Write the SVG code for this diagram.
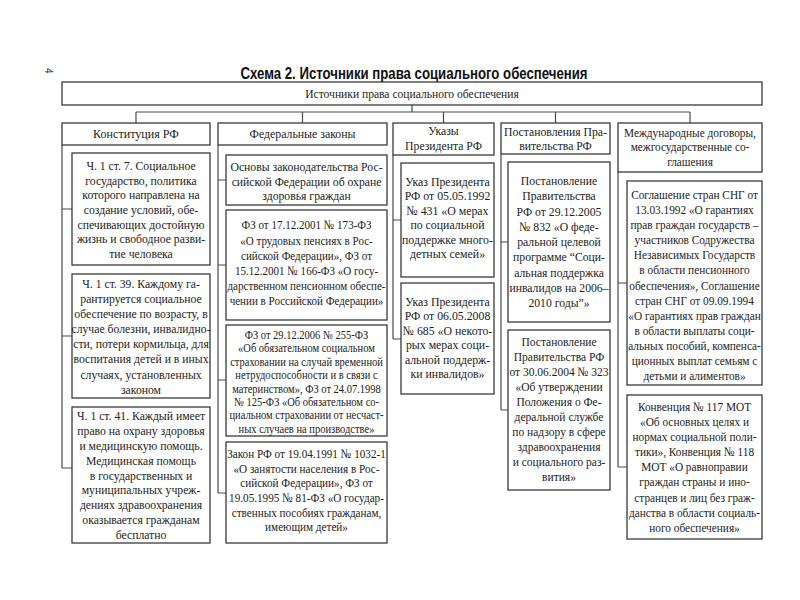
<svg xmlns="http://www.w3.org/2000/svg" width="800" height="600" viewBox="0 0 800 600">
<style>
.box{fill:#fff;stroke:#3a3a3a;stroke-width:1.3}
.ln{fill:none;stroke:#4a4a4a;stroke-width:1.2}
.t{font-family:"Liberation Serif","Times New Roman",serif;font-size:13px;fill:#222;text-anchor:middle}
.ttl{font-family:"Liberation Sans",Arial,sans-serif;font-size:16px;font-weight:bold;fill:#111;text-anchor:middle}
</style>
<rect width="800" height="600" fill="#fff"/>
<text x="45" y="68" transform="rotate(90 45 68)" style="font-family:'Liberation Sans',sans-serif;font-size:10px;fill:#333">4</text>
<text class="ttl" x="414" y="79" textLength="347" lengthAdjust="spacingAndGlyphs">Схема 2. Источники права социального обеспечения</text>

<g id="connectors">
<path class="ln" d="M412 105V112M136 112H690M136 112V123M302.5 112V123M443.5 112V123M555.5 112V123M690 112V123"/>
<path class="ln" d="M62 145V468M62 209H72M62 336H72M62 468H72"/>
<path class="ln" d="M218 145V493M218 180H226M218 265H226M218 380H226M218 493H226"/>
<path class="ln" d="M393 155V339M393 220H401M393 339H401"/>
<path class="ln" d="M501 154V410M501 242H508M501 410H508"/>
<path class="ln" d="M618 172V467M618 283H627M618 467H627"/>
</g>

<g id="root">
<rect class="box" x="62" y="82" width="700" height="23"/>
<text class="t" transform="translate(412 0) scale(0.89 1)"><tspan x="0" y="98">Источники права социального обеспечения</tspan></text>
</g>

<g id="h-constitution">
<rect class="box" x="62" y="123" width="148" height="22"/>
<text class="t" transform="translate(136 0) scale(0.93 1)"><tspan x="0" y="138.5">Конституция РФ</tspan></text>
</g>
<g id="h-laws">
<rect class="box" x="218" y="123" width="169" height="22"/>
<text class="t" transform="translate(302.5 0) scale(0.91 1)"><tspan x="0" y="138.5">Федеральные законы</tspan></text>
</g>
<g id="h-decrees">
<rect class="box" x="393" y="123" width="101" height="32"/>
<text class="t" transform="translate(443.5 0) scale(0.9 1)"><tspan x="0" y="135.5">Указы</tspan><tspan x="0" y="150">Президента РФ</tspan></text>
</g>
<g id="h-government">
<rect class="box" x="501" y="123" width="109" height="31"/>
<text class="t" transform="translate(555.5 0) scale(0.9 1)"><tspan x="0" y="136">Постановления Пра-</tspan><tspan x="0" y="150">вительства РФ</tspan></text>
</g>
<g id="h-international">
<rect class="box" x="618" y="123" width="144" height="49"/>
<text class="t" transform="translate(690 0) scale(0.87 1)"><tspan x="0" y="137">Международные договоры,</tspan><tspan x="0" y="151.5">межгосударственные со-</tspan><tspan x="0" y="166">глашения</tspan></text>
</g>

<g id="c1-art7">
<rect class="box" x="72" y="153" width="138" height="112"/>
<text class="t" transform="translate(141 0) scale(0.9 1)"><tspan x="0" y="170">Ч. 1 ст. 7. Социальное</tspan><tspan x="0" y="184.7">государство, политика</tspan><tspan x="0" y="199.4">которого направлена на</tspan><tspan x="0" y="214.1">создание условий, обе-</tspan><tspan x="0" y="228.8">спечивающих достойную</tspan><tspan x="0" y="243.5">жизнь и свободное разви-</tspan><tspan x="0" y="258.2">тие человека</tspan></text>
</g>
<g id="c1-art39">
<rect class="box" x="72" y="274" width="138" height="124"/>
<text class="t" transform="translate(141 0) scale(0.9 1)"><tspan x="0" y="288">Ч. 1 ст. 39. Каждому га-</tspan><tspan x="0" y="303.1">рантируется социальное</tspan><tspan x="0" y="318.2">обеспечение по возрасту, в</tspan><tspan x="0" y="333.3">случае болезни, инвалидно-</tspan><tspan x="0" y="348.4">сти, потери кормильца, для</tspan><tspan x="0" y="363.5">воспитания детей и в иных</tspan><tspan x="0" y="378.6">случаях, установленных</tspan><tspan x="0" y="393.7">законом</tspan></text>
</g>
<g id="c1-art41">
<rect class="box" x="72" y="407" width="138" height="136"/>
<text class="t" transform="translate(141 0) scale(0.9 1)"><tspan x="0" y="420">Ч. 1 ст. 41. Каждый имеет</tspan><tspan x="0" y="434.9">право на охрану здоровья</tspan><tspan x="0" y="449.8">и медицинскую помощь.</tspan><tspan x="0" y="464.7">Медицинская помощь</tspan><tspan x="0" y="479.6">в государственных и</tspan><tspan x="0" y="494.5">муниципальных учреж-</tspan><tspan x="0" y="509.4">дениях здравоохранения</tspan><tspan x="0" y="524.3">оказывается гражданам</tspan><tspan x="0" y="539.2">бесплатно</tspan></text>
</g>

<g id="c2-osnovy">
<rect class="box" x="226" y="155" width="161" height="50"/>
<text class="t" transform="translate(306.5 0) scale(0.9 1)"><tspan x="0" y="171">Основы законодательства Рос-</tspan><tspan x="0" y="186">сийской Федерации об охране</tspan><tspan x="0" y="200.5">здоровья граждан</tspan></text>
</g>
<g id="c2-pensions">
<rect class="box" x="226" y="210" width="161" height="110"/>
<text class="t" transform="translate(306.5 0) scale(0.85 1)"><tspan x="0" y="229.5">ФЗ от 17.12.2001 № 173-ФЗ</tspan><tspan x="0" y="244.7">«О трудовых пенсиях в Рос-</tspan><tspan x="0" y="259.9">сийской Федерации», ФЗ от</tspan><tspan x="0" y="275.1">15.12.2001 № 166-ФЗ «О госу-</tspan><tspan x="0" y="290.3">дарственном пенсионном обеспе-</tspan><tspan x="0" y="305.5">чении в Российской Федерации»</tspan></text>
</g>
<g id="c2-insurance">
<rect class="box" x="226" y="325" width="161" height="111"/>
<text class="t" style="font-size:12.5px" transform="translate(306.5 0) scale(0.84 1)"><tspan x="0" y="339">ФЗ от 29.12.2006 № 255-ФЗ</tspan><tspan x="0" y="352.4">«Об обязательном социальном</tspan><tspan x="0" y="365.8">страховании на случай временной</tspan><tspan x="0" y="379.2">нетрудоспособности и в связи с</tspan><tspan x="0" y="392.6">материнством», ФЗ от 24.07.1998</tspan><tspan x="0" y="406">№ 125-ФЗ «Об обязательном со-</tspan><tspan x="0" y="419.4">циальном страховании от несчаст-</tspan><tspan x="0" y="432.8">ных случаев на производстве»</tspan></text>
</g>
<g id="c2-employment">
<rect class="box" x="226" y="442" width="161" height="101"/>
<text class="t" transform="translate(306.5 0) scale(0.86 1)"><tspan x="0" y="458">Закон РФ от 19.04.1991 № 1032-1</tspan><tspan x="0" y="472.7">«О занятости населения в Рос-</tspan><tspan x="0" y="487.4">сийской Федерации», ФЗ от</tspan><tspan x="0" y="502.1">19.05.1995 № 81-ФЗ «О государ-</tspan><tspan x="0" y="516.8">ственных пособиях гражданам,</tspan><tspan x="0" y="531.5">имеющим детей»</tspan></text>
</g>

<g id="c3-decree431">
<rect class="box" x="401" y="163" width="93" height="114"/>
<text class="t" transform="translate(447.5 0) scale(0.91 1)"><tspan x="0" y="186">Указ Президента</tspan><tspan x="0" y="200.5">РФ от 05.05.1992</tspan><tspan x="0" y="215">№ 431 «О мерах</tspan><tspan x="0" y="229.5">по социальной</tspan><tspan x="0" y="244">поддержке много-</tspan><tspan x="0" y="258.5">детных семей»</tspan></text>
</g>
<g id="c3-decree685">
<rect class="box" x="401" y="283" width="93" height="111"/>
<text class="t" transform="translate(447.5 0) scale(0.91 1)"><tspan x="0" y="306">Указ Президента</tspan><tspan x="0" y="320.5">РФ от 06.05.2008</tspan><tspan x="0" y="335">№ 685 «О некото-</tspan><tspan x="0" y="349.5">рых мерах соци-</tspan><tspan x="0" y="364">альной поддерж-</tspan><tspan x="0" y="378.5">ки инвалидов»</tspan></text>
</g>

<g id="c4-resolution832">
<rect class="box" x="508" y="162" width="102" height="160"/>
<text class="t" transform="translate(559 0) scale(0.9 1)"><tspan x="0" y="185">Постановление</tspan><tspan x="0" y="200.3">Правительства</tspan><tspan x="0" y="215.6">РФ от 29.12.2005</tspan><tspan x="0" y="230.9">№ 832 «О феде-</tspan><tspan x="0" y="246.2">ральной целевой</tspan><tspan x="0" y="261.5">программе “Соци-</tspan><tspan x="0" y="276.8">альная поддержка</tspan><tspan x="0" y="292.1">инвалидов на 2006–</tspan><tspan x="0" y="307.4">2010 годы”»</tspan></text>
</g>
<g id="c4-resolution323">
<rect class="box" x="508" y="330" width="102" height="160"/>
<text class="t" transform="translate(559 0) scale(0.885 1)"><tspan x="0" y="346">Постановление</tspan><tspan x="0" y="361">Правительства РФ</tspan><tspan x="0" y="376">от 30.06.2004 № 323</tspan><tspan x="0" y="391">«Об утверждении</tspan><tspan x="0" y="406">Положения о Фе-</tspan><tspan x="0" y="421">деральной службе</tspan><tspan x="0" y="436">по надзору в сфере</tspan><tspan x="0" y="451">здравоохранения</tspan><tspan x="0" y="466">и социального раз-</tspan><tspan x="0" y="481">вития»</tspan></text>
</g>

<g id="c5-cis">
<rect class="box" x="627" y="181" width="135" height="204"/>
<text class="t" transform="translate(694.5 0) scale(0.87 1)"><tspan x="0" y="199">Соглашение стран СНГ от</tspan><tspan x="0" y="214.1">13.03.1992 «О гарантиях</tspan><tspan x="0" y="229.2">прав граждан государств –</tspan><tspan x="0" y="244.3">участников Содружества</tspan><tspan x="0" y="259.4">Независимых Государств</tspan><tspan x="0" y="274.5">в области пенсионного</tspan><tspan x="0" y="289.6">обеспечения», Соглашение</tspan><tspan x="0" y="304.7">стран СНГ от 09.09.1994</tspan><tspan x="0" y="319.8">«О гарантиях прав граждан</tspan><tspan x="0" y="334.9">в области выплаты соци-</tspan><tspan x="0" y="350">альных пособий, компенса-</tspan><tspan x="0" y="365.1">ционных выплат семьям с</tspan><tspan x="0" y="380.2">детьми и алиментов»</tspan></text>
</g>
<g id="c5-ilo">
<rect class="box" x="627" y="395" width="135" height="144"/>
<text class="t" transform="translate(694.5 0) scale(0.87 1)"><tspan x="0" y="411">Конвенция № 117 МОТ</tspan><tspan x="0" y="426.1">«Об основных целях и</tspan><tspan x="0" y="441.2">нормах социальной поли-</tspan><tspan x="0" y="456.3">тики», Конвенция № 118</tspan><tspan x="0" y="471.4">МОТ «О равноправии</tspan><tspan x="0" y="486.5">граждан страны и ино-</tspan><tspan x="0" y="501.6">странцев и лиц без граж-</tspan><tspan x="0" y="516.7">данства в области социаль-</tspan><tspan x="0" y="531.8">ного обеспечения»</tspan></text>
</g>
</svg>
